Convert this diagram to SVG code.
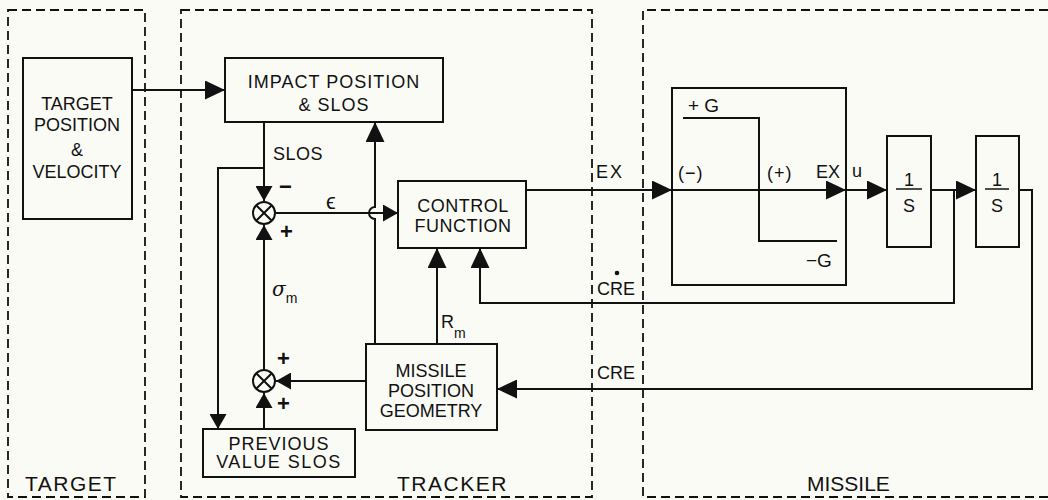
<svg xmlns="http://www.w3.org/2000/svg" width="1048" height="500" viewBox="0 0 1048 500">
<defs>
<style>
.bg{fill:#fbfbf6}
.reg{fill:none;stroke:#111;stroke-width:1.8;stroke-dasharray:9 5}
.box{fill:none;stroke:#111;stroke-width:2}
.ln{fill:none;stroke:#111;stroke-width:2}
.t{font-family:"Liberation Sans",Arial,sans-serif;font-size:18px;fill:#111;text-anchor:middle}
.l{font-family:"Liberation Sans",Arial,sans-serif;font-size:18px;fill:#111}
.pm{font-family:"Liberation Sans",Arial,sans-serif;font-size:22px;fill:#111;font-weight:bold}
.big{font-family:"Liberation Sans",Arial,sans-serif;font-size:21px;fill:#111;letter-spacing:1.5px}
.sum{fill:none;stroke:#111;stroke-width:2}
</style>
<marker id="ab" markerUnits="userSpaceOnUse" markerWidth="20" markerHeight="19" refX="20" refY="9.5" orient="auto"><path d="M0,0 L20,9.5 L0,19 z" fill="#111"/></marker>
<marker id="as" markerUnits="userSpaceOnUse" markerWidth="15" markerHeight="17" refX="15" refY="8.5" orient="auto"><path d="M0,0 L15,8.5 L0,17 z" fill="#111"/></marker>
</defs>
<rect class="bg" x="0" y="0" width="1048" height="500"/>

<g id="regions">
<rect class="reg" x="8" y="10" width="137" height="487"/>
<rect class="reg" x="181" y="10" width="411" height="487"/>
<path class="reg" d="M1048,10 H643 V497 H1048"/>
<text class="big" x="25" y="491">TARGET</text>
<text class="big" x="397" y="491">TRACKER</text>
<text class="big" x="807" y="491" style="letter-spacing:0">MISSILE</text>
</g>

<g id="target">
<rect class="box" x="23" y="58" width="109" height="161"/>
<text class="t" x="77" y="110">TARGET</text>
<text class="t" x="77" y="131">POSITION</text>
<text class="t" x="77" y="156">&amp;</text>
<text class="t" x="77" y="178">VELOCITY</text>
</g>

<g id="impact">
<rect class="box" x="225" y="58" width="218" height="64"/>
<text class="t" x="334" y="88" style="letter-spacing:1px">IMPACT POSITION</text>
<text class="t" x="334" y="111" style="letter-spacing:1px">&amp; SLOS</text>
</g>

<g id="sum1">
<circle class="sum" cx="264" cy="213" r="11"/>
<path class="ln" d="M256.2,205.2 L271.8,220.8 M271.8,205.2 L256.2,220.8"/>
</g>

<g id="sum2">
<circle class="sum" cx="264" cy="381" r="11"/>
<path class="ln" d="M256.2,373.2 L271.8,388.8 M271.8,373.2 L256.2,388.8"/>
</g>

<g id="control">
<rect class="box" x="398" y="181" width="128" height="67"/>
<text class="t" x="463" y="212" style="letter-spacing:0.5px">CONTROL</text>
<text class="t" x="463" y="232" style="letter-spacing:0.5px">FUNCTION</text>
</g>

<g id="mpg">
<rect class="box" x="366" y="344" width="131" height="86"/>
<text class="t" x="431" y="377">MISSILE</text>
<text class="t" x="431" y="397">POSITION</text>
<text class="t" x="431" y="417">GEOMETRY</text>
</g>

<g id="previous">
<rect class="box" x="203" y="429" width="152" height="48"/>
<text class="t" x="279" y="450" style="letter-spacing:1px">PREVIOUS</text>
<text class="t" x="279" y="468" style="letter-spacing:1.5px">VALUE SLOS</text>
</g>

<g id="saturation">
<rect class="box" x="672" y="88" width="174" height="197"/>
<polyline class="ln" points="683,118 759,118 759,241 837,241"/>
<text class="l" x="688" y="112" style="font-size:19px">+ G</text>
<text class="l" x="806" y="267" style="font-size:19px">−G</text>
<text class="l" x="678" y="179" style="letter-spacing:1px">(−)</text>
<text class="l" x="767" y="179" style="letter-spacing:1px">(+)</text>
<text class="l" x="816" y="178">EX</text>
</g>

<g id="int1">
<rect class="box" x="887" y="136" width="44" height="111"/>
<text class="t" x="909" y="186">1</text>
<line class="ln" x1="896" y1="189" x2="922" y2="189" style="stroke-width:1.5"/>
<text class="t" x="909" y="212">S</text>
</g>

<g id="int2">
<rect class="box" x="976" y="136" width="43" height="111"/>
<text class="t" x="997" y="186">1</text>
<line class="ln" x1="985" y1="189" x2="1009" y2="189" style="stroke-width:1.5"/>
<text class="t" x="997" y="212">S</text>
</g>

<g id="connectors">
<path class="ln" d="M132,90 H225" marker-end="url(#ab)"/>
<path class="ln" d="M264,122 V201" marker-end="url(#as)"/>
<path class="ln" d="M264,168 H218 V429" marker-end="url(#as)"/>
<path class="ln" d="M264,370 V225" marker-end="url(#as)"/>
<path class="ln" d="M264,429 V393" marker-end="url(#as)"/>
<path class="ln" d="M366,381 H276" marker-end="url(#as)"/>
<path class="ln" d="M276,213 H398" marker-end="url(#as)"/>
<path class="ln" d="M375,344 V219 A6,6 0 0 1 375,207 V122" marker-end="url(#ab)"/>
<path class="ln" d="M437,344 V248" marker-end="url(#ab)"/>
<path class="ln" d="M526,190 H672" marker-end="url(#ab)"/>
<path class="ln" d="M672,190 H846" marker-end="url(#ab)"/>
<path class="ln" d="M846,190 H887" marker-end="url(#ab)"/>
<path class="ln" d="M931,190 H976" marker-end="url(#ab)"/>
<path class="ln" d="M954,190 V303 H480 V248" marker-end="url(#ab)"/>
<path class="ln" d="M1019,190 H1032 V389 H497" marker-end="url(#ab)"/>
</g>

<g id="labels">
<text class="l" x="273" y="160" style="letter-spacing:0.5px">SLOS</text>
<text class="pm" x="279" y="194">−</text>
<text class="pm" x="280" y="239">+</text>
<text class="l" x="326" y="209" style="font-size:22px">ϵ</text>
<text class="l" x="272" y="296" style="font-size:20px;font-family:'DejaVu Serif',serif;font-style:italic">σ<tspan dy="7" style="font-size:14px;font-style:normal;font-family:'Liberation Sans',sans-serif">m</tspan></text>
<text class="pm" x="277" y="366">+</text>
<text class="pm" x="277" y="411">+</text>
<text class="l" x="441" y="328">R<tspan dy="10" style="font-size:14px">m</tspan></text>
<text class="l" x="596" y="178" style="letter-spacing:2px">EX</text>
<text class="l" x="852" y="177">u</text>
<circle cx="617" cy="273" r="2.3" fill="#111"/>
<text class="l" x="597" y="295">CRE</text>
<text class="l" x="597" y="379">CRE</text>
</g>
</svg>
